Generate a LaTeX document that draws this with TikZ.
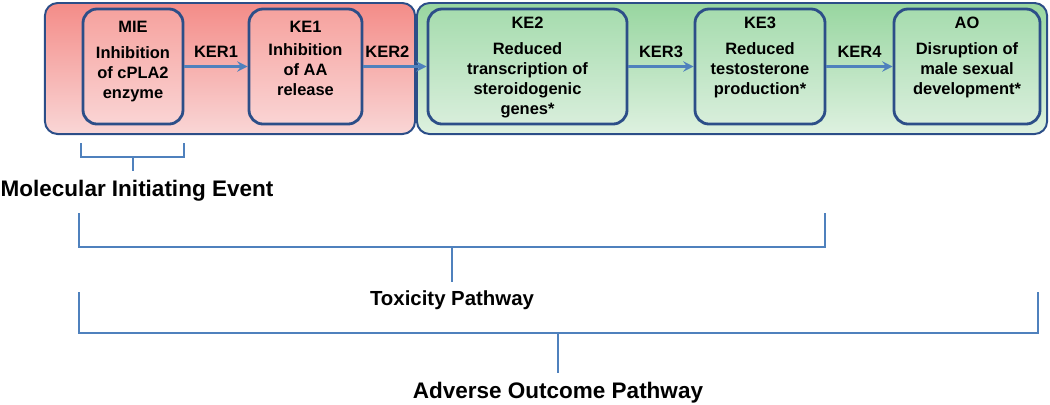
\documentclass[tikz,border=0pt]{standalone}
\usepackage{fontspec}
\setmainfont{Liberation Sans}
\usetikzlibrary{arrows, positioning}
\definecolor{edgeblue}{RGB}{44,78,136}
\definecolor{linkblue}{RGB}{79,129,189}
\definecolor{redtop}{RGB}{244,140,136}
\definecolor{redbot}{RGB}{249,214,214}
\definecolor{pinktop}{RGB}{246,162,158}
\definecolor{pinkbot}{RGB}{250,212,212}
\definecolor{greentop}{RGB}{152,214,160}
\definecolor{greenbot}{RGB}{222,241,224}
\definecolor{minttop}{RGB}{166,220,174}
\definecolor{mintbot}{RGB}{216,238,219}
\tikzstyle{arrow} = [line width=2.2pt,->,>=stealth,draw=linkblue]

\begin{document}
\begin{tikzpicture}
        [
            x=0.025cm, y=-0.025cm,
            group/.style={draw=edgeblue, line width=1.4pt, rounded corners=9pt, minimum height=3.275cm},
            evt/.style={draw=edgeblue, line width=2pt, rounded corners=10pt, minimum height=2.875cm},
            evttext/.style={align=center, inner sep=0pt, font=\fontsize{11.7}{14.2}\selectfont\bfseries},
            ker/.style={above=2pt, font=\fontsize{11.7}{14}\selectfont\bfseries, text=black},
            brace/.style={draw=linkblue, line width=1.5pt},
            span/.style={anchor=base, inner sep=6pt, font=\fontsize{16}{19}\selectfont\bfseries},
        ]
    \useasboundingbox (0,0) rectangle (1050,404);

    % background groups
    \node[group, top color=redtop, bottom color=redbot, minimum width=9.25cm] (early) at (230,68.5){};
    \node[group, top color=greentop, bottom color=greenbot, minimum width=15.75cm] (late) at (732,68.5){};

    % event boxes
    \node[evt, top color=pinktop, bottom color=pinkbot, minimum width=2.5cm] (mie) at (133,66.5){};
    \node[evt, top color=pinktop, bottom color=pinkbot, minimum width=2.825cm] (ke1) at (305.5,66.5){};
    \node[evt, top color=minttop, bottom color=mintbot, minimum width=4.975cm] (ke2) at (527.5,66.5){};
    \node[evt, top color=minttop, bottom color=mintbot, minimum width=3.25cm] (ke3) at (760,66.5){};
    \node[evt, top color=minttop, bottom color=mintbot, minimum width=3.65cm] (ao) at (967,66.5){};

    \node[evttext, below=0.34cm of mie.north] (mietext) {MIE\\[4pt]Inhibition\\of cPLA2\\enzyme};
    \node[evttext, below=0.34cm of ke1.north] (ke1text) {KE1\\[2pt]Inhibition\\of AA\\release};
    \node[evttext, below=0.24cm of ke2.north] (ke2text) {KE2\\[4pt]Reduced\\transcription of\\steroidogenic\\genes*};
    \node[evttext, below=0.24cm of ke3.north] (ke3text) {KE3\\[4pt]Reduced\\testosterone\\production*};
    \node[evttext, below=0.24cm of ao.north] (aotext) {AO\\[4pt]Disruption of\\male sexual\\development*};

    % relationships
    \draw[arrow] (mie.east) -- node[ker]{KER1} (ke1.west);
    \draw[arrow] (ke1.east) -- node[ker, pos=0.38]{KER2} (ke2.west);
    \draw[arrow] (ke2.east) -- node[ker]{KER3} (ke3.west);
    \draw[arrow] (ke3.east) -- node[ker]{KER4} (ao.west);

    % brackets
    \node[span] (miel) at (137,196){Molecular Initiating Event};
    \node[span, font=\fontsize{14.5}{17}\selectfont\bfseries] (tpl) at (452,305){Toxicity Pathway};
    \node[span] (aopl) at (558,398){Adverse Outcome Pathway};

    \coordinate (mieb) at (133,157);
    \coordinate (tpb) at (452,247);
    \coordinate (aopb) at (558,333);

    \draw[brace] (81,143) -- (81,157) -- (184,157) -- (184,143);
    \draw[brace] (mieb) -- (mieb |- miel.north);
    \draw[brace] (79,213) -- (79,247) -- (825,247) -- (825,213);
    \draw[brace] (tpb) -- (tpb |- tpl.north);
    \draw[brace] (79,292) -- (79,333) -- (1038,333) -- (1038,292);
    \draw[brace] (aopb) -- (aopb |- aopl.north);
\end{tikzpicture}
\end{document}
